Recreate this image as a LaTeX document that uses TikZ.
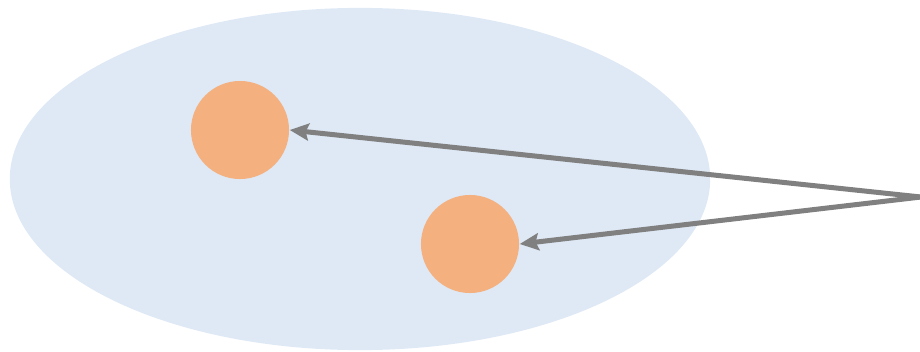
\documentclass[tikz,border=0pt]{standalone}
\usepackage{tikz}
\usetikzlibrary{positioning,shapes.geometric,arrows.meta}
\definecolor{SetBlue}{RGB}{222,233,245}
\definecolor{PointOrange}{RGB}{244,176,127}
\definecolor{LinkGray}{RGB}{128,128,128}

\begin{document}
\begin{tikzpicture}[
    x=0.01cm, y=-0.01cm,
    region/.style={ellipse,fill=SetBlue,draw=none,minimum width=7cm,minimum height=3.42cm,inner sep=0pt},
    point/.style={circle,fill=PointOrange,draw=none,minimum size=0.98cm,inner sep=0pt},
    link/.style={-{Stealth[length=0.19cm,width=0.17cm,inset=0.03cm]},line width=0.05cm,LinkGray}
]
\useasboundingbox (0,0) rectangle (920,351);
% Region
\node[region] (set) at (360,179) {};

% Points
\node[point] (p1) at (240,130) {};
\node[point] (p2) at (470,244) {};

% Source
\coordinate (src) at (921,197);

% Links
\draw[link] (src) -- (p1.east);
\draw[link] (src) -- (p2.east);
\end{tikzpicture}
\end{document}
